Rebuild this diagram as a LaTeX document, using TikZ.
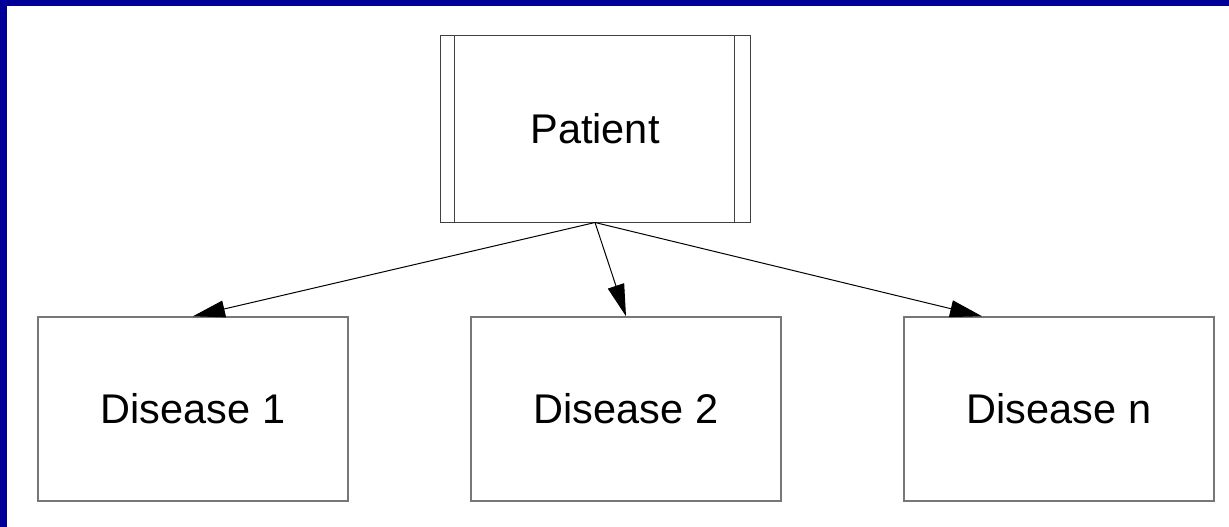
\documentclass[tikz,border=0pt]{standalone}
\usepackage{fontspec}
\setmainfont{Liberation Sans}
\usetikzlibrary{arrows.meta,calc,positioning}
\definecolor{slideblue}{HTML}{000099}
\definecolor{boxgray}{HTML}{777777}

\begin{document}
\begin{tikzpicture}[x=1pt,y=-1pt,
  disbox/.style={draw=boxgray,line width=1.5pt,minimum width=310pt,minimum height=184pt,font=\fontsize{41.5}{48}\selectfont},
  patbox/.style={draw=black!75,line width=1pt,minimum width=310pt,minimum height=186pt,font=\fontsize{41.5}{48}\selectfont},
  link/.style={-{Triangle[length=32pt,width=17pt]},line width=1pt}]
  \useasboundingbox (0,0) rectangle (1229,527);
  \fill[white] (0,0) rectangle (1229,527);
  \fill[slideblue] (0,0) rectangle (1229,6);
  \fill[slideblue] (0,0) rectangle (7,527);
  \node[patbox] (pat) at (595,129) {Patient};
  \draw[black!75,line width=1pt] ([xshift=15pt]pat.north west) -- ([xshift=15pt]pat.south west);
  \draw[black!75,line width=1pt] ([xshift=-16pt]pat.north east) -- ([xshift=-16pt]pat.south east);
  \node[disbox] (dis1) at (193,409) {Disease 1};
  \node[disbox] (dis2) at (626,409) {Disease 2};
  \node[disbox] (disn) at (1059,409) {Disease n};
  \coordinate (disnin) at ([xshift=-77pt]disn.north);
  \draw[link] (pat.south) -- (dis1.north);
  \draw[link] (pat.south) -- (dis2.north);
  \draw[link] (pat.south) -- (disnin);
\end{tikzpicture}
\end{document}
